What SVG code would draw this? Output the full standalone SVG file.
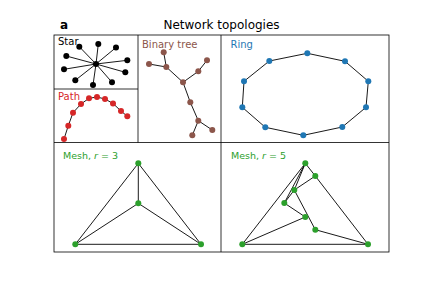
<svg xmlns="http://www.w3.org/2000/svg" width="432" height="288" viewBox="0 0 432 288">
<style>
text{font-family:"DejaVu Sans","Liberation Sans",sans-serif}
.frame{fill:none;stroke:#000;stroke-width:0.8}
.e{stroke:#000;stroke-width:0.9;fill:none}
.lbl{font-size:10px}
.mlbl{font-size:9.5px}
.star{fill:#000}.path{fill:#d62728}.tree{fill:#8c564b}.ring{fill:#1f77b4}.mesh{fill:#2ca02c}
</style>
<rect width="432" height="288" fill="#fff"/>
<text x="60" y="28.5" font-size="12" font-weight="bold">a</text>
<text x="221.5" y="28.5" font-size="12" text-anchor="middle">Network topologies</text>
<g id="frames" class="frame">
<rect x="54" y="35" width="335" height="217"/>
<line x1="54" y1="89" x2="138" y2="89"/>
<line x1="54" y1="142.5" x2="389" y2="142.5"/>
<line x1="138" y1="35" x2="138" y2="142.5"/>
<line x1="221" y1="35" x2="221" y2="252"/>
</g>
<g id="connectors" class="e">
<path d="M96,64L79.3,46.7M96,64L98.3,44M96,64L116,47.5M96,64L127.3,60.3M96,64L125.3,72.3M96,64L112,82.3M96,64L93,85M96,64L75.3,80.3M96,64L64,69.3M96,64L66.3,56"/>
<polyline points="64,139 68.3,125.7 73,112.7 81,104 89,98.3 97,97 105,99 113,103.5 121,111 127.3,116.3"/>
<path d="M163.7,52.3L166.3,67M149,64L166.3,67M166.3,67L183,82.3M183,82.3L198.3,71.3M198.3,71.3L207,60.3M183,82.3L190.3,102.3M190.3,102.3L198.3,120.7M198.3,120.7L212.3,130M198.3,120.7L192.3,135.3"/>
<polygon points="307.3,53.3 345,61.3 368.3,81.3 366,107.3 342.3,127 303.3,135.3 265.3,127.3 242.3,107.3 244,81.3 269.3,61"/>
<path d="M138.3,163.3L138.3,203.3M138.3,163.3L75.3,244.3M138.3,163.3L201,244.3M138.3,203.3L75.3,244.3M138.3,203.3L201,244.3M75.3,244.3L201,244.3"/>
<path d="M305.3,163.3L242.3,244.3M305.3,163.3L294.3,190M305.3,163.3L284.3,203M305.3,163.3L315.3,176M315.3,176L294.3,190M315.3,176L368,244.3M294.3,190L284.3,203M294.3,190L315.3,229.7M284.3,203L305.3,217M305.3,217L242.3,244.3M315.3,229.7L368,244.3M242.3,244.3L368,244.3"/>
</g>
<g id="star-panel">
<text class="lbl" x="58" y="45">Star</text>
<g id="star-nodes" class="star">
<circle id="s0" cx="96" cy="64" r="3"/>
<circle id="s1" cx="79.3" cy="46.7" r="3"/>
<circle id="s2" cx="98.3" cy="44" r="3"/>
<circle id="s3" cx="116" cy="47.5" r="3"/>
<circle id="s4" cx="127.3" cy="60.3" r="3"/>
<circle id="s5" cx="125.3" cy="72.3" r="3"/>
<circle id="s6" cx="112" cy="82.3" r="3"/>
<circle id="s7" cx="93" cy="85" r="3"/>
<circle id="s8" cx="75.3" cy="80.3" r="3"/>
<circle id="s9" cx="64" cy="69.3" r="3"/>
<circle id="s10" cx="66.3" cy="56" r="3"/>
</g>
</g>
<g id="path-panel">
<text class="lbl" x="58" y="99.5" fill="#d62728">Path</text>
<g id="path-nodes" class="path">
<circle id="p0" cx="64" cy="139" r="3"/>
<circle id="p1" cx="68.3" cy="125.7" r="3"/>
<circle id="p2" cx="73" cy="112.7" r="3"/>
<circle id="p3" cx="81" cy="104" r="3"/>
<circle id="p4" cx="89" cy="98.3" r="3"/>
<circle id="p5" cx="97" cy="97" r="3"/>
<circle id="p6" cx="105" cy="99" r="3"/>
<circle id="p7" cx="113" cy="103.5" r="3"/>
<circle id="p8" cx="121" cy="111" r="3"/>
<circle id="p9" cx="127.3" cy="116.3" r="3"/>
</g>
</g>
<g id="tree-panel">
<text class="lbl" x="142" y="47.5" fill="#8c564b">Binary tree</text>
<g id="tree-nodes" class="tree">
<circle id="t0" cx="183" cy="82.3" r="3"/>
<circle id="t1" cx="166.3" cy="67" r="3"/>
<circle id="t2" cx="163.7" cy="52.3" r="3"/>
<circle id="t3" cx="149" cy="64" r="3"/>
<circle id="t4" cx="198.3" cy="71.3" r="3"/>
<circle id="t5" cx="207" cy="60.3" r="3"/>
<circle id="t6" cx="190.3" cy="102.3" r="3"/>
<circle id="t7" cx="198.3" cy="120.7" r="3"/>
<circle id="t8" cx="212.3" cy="130" r="3"/>
<circle id="t9" cx="192.3" cy="135.3" r="3"/>
</g>
</g>
<g id="ring-panel">
<text class="lbl" x="230.5" y="47.5" fill="#1f77b4">Ring</text>
<g id="ring-nodes" class="ring">
<circle id="r0" cx="307.3" cy="53.3" r="3"/>
<circle id="r1" cx="345" cy="61.3" r="3"/>
<circle id="r2" cx="368.3" cy="81.3" r="3"/>
<circle id="r3" cx="366" cy="107.3" r="3"/>
<circle id="r4" cx="342.3" cy="127" r="3"/>
<circle id="r5" cx="303.3" cy="135.3" r="3"/>
<circle id="r6" cx="265.3" cy="127.3" r="3"/>
<circle id="r7" cx="242.3" cy="107.3" r="3"/>
<circle id="r8" cx="244" cy="81.3" r="3"/>
<circle id="r9" cx="269.3" cy="61" r="3"/>
</g>
</g>
<g id="mesh3-panel">
<text class="mlbl" x="63" y="158.5" fill="#2ca02c">Mesh, <tspan font-style="italic">r</tspan> = 3</text>
<g id="mesh3-nodes" class="mesh">
<circle id="m3a" cx="138.3" cy="163.3" r="3"/>
<circle id="m3b" cx="138.3" cy="203.3" r="3"/>
<circle id="m3c" cx="75.3" cy="244.3" r="3"/>
<circle id="m3d" cx="201" cy="244.3" r="3"/>
</g>
</g>
<g id="mesh5-panel">
<text class="mlbl" x="231" y="158.5" fill="#2ca02c">Mesh, <tspan font-style="italic">r</tspan> = 5</text>
<g id="mesh5-nodes" class="mesh">
<circle id="m5a" cx="305.3" cy="163.3" r="3"/>
<circle id="m5b" cx="315.3" cy="176" r="3"/>
<circle id="m5c" cx="294.3" cy="190" r="3"/>
<circle id="m5d" cx="284.3" cy="203" r="3"/>
<circle id="m5e" cx="305.3" cy="217" r="3"/>
<circle id="m5f" cx="315.3" cy="229.7" r="3"/>
<circle id="m5g" cx="242.3" cy="244.3" r="3"/>
<circle id="m5h" cx="368" cy="244.3" r="3"/>
</g>
</g>
</svg>
